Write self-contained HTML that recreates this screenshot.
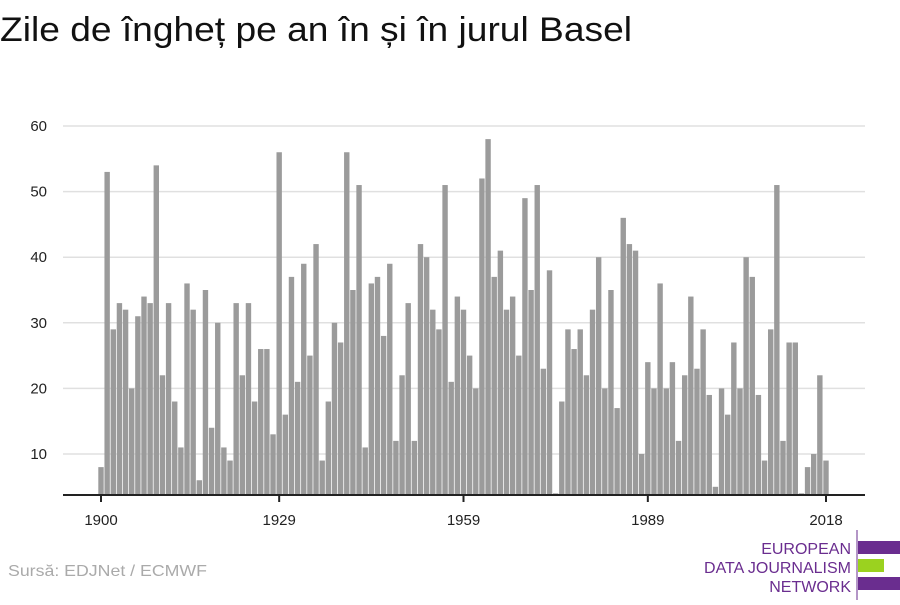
<!DOCTYPE html>
<html><head><meta charset="utf-8"><style>
body{margin:0;width:900px;height:600px;background:#fff;overflow:hidden;font-family:"Liberation Sans",sans-serif}
</style></head><body>
<svg id="s" width="900" height="600" xmlns="http://www.w3.org/2000/svg">
<text x="0" y="41" font-size="34" fill="#111" font-family="Liberation Sans, sans-serif" textLength="632" lengthAdjust="spacingAndGlyphs">Zile de îngheț pe an în și în jurul Basel</text>
<g id="grid"></g>
<g id="bars" fill="#9b9b9b"></g>
<line x1="63" y1="495" x2="865" y2="495" stroke="#222" stroke-width="2"/>
<g id="ticks" font-size="15" fill="#222" font-family="Liberation Sans, sans-serif"></g>
<text x="8" y="576" font-size="16" fill="#aaa" textLength="199" lengthAdjust="spacingAndGlyphs">Sursă: EDJNet / ECMWF</text>
<g font-size="16" fill="#6a2d8f" text-anchor="end" font-family="Liberation Sans, sans-serif">
<text x="851" y="554">EUROPEAN</text>
<text x="851" y="573">DATA JOURNALISM</text>
<text x="851" y="592">NETWORK</text>
</g>
<line x1="857" y1="530" x2="857" y2="600" stroke="#6a2d8f" stroke-width="1"/>
<rect x="858" y="541" width="42" height="13" fill="#6a2d8f"/>
<rect x="858" y="559" width="26" height="13" fill="#9bd21f"/>
<rect x="858" y="577" width="42" height="13" fill="#6a2d8f"/>
</svg>
<script>
var v=[8,53,29,33,32,20,31,34,33,54,22,33,18,11,36,32,6,35,14,30,11,9,33,22,33,18,26,26,13,56,16,37,21,39,25,42,9,18,30,27,56,35,51,11,36,37,28,39,12,22,33,12,42,40,32,29,51,21,34,32,25,20,52,58,37,41,32,34,25,49,35,51,23,38,4,18,29,26,29,22,32,40,20,35,17,46,42,41,10,24,20,36,20,24,12,22,34,23,29,19,5,20,16,27,20,40,37,19,9,29,51,12,27,27,4,8,10,22,9];
var ns="http://www.w3.org/2000/svg";
function el(t,a,p){var e=document.createElementNS(ns,t);for(var k in a)e.setAttribute(k,a[k]);p.appendChild(e);return e;}
var g=document.getElementById('grid'),b=document.getElementById('bars'),tk=document.getElementById('ticks');
function Y(val){return 454-(val-10)*6.56;}
for(var i=1;i<=6;i++){var y=Y(i*10);el('line',{x1:63,x2:865,y1:y,y2:y,stroke:'#e0e0e0','stroke-width':1.5},g);
var t=el('text',{x:47,y:y+5,'text-anchor':'end'},tk);t.textContent=i*10;}
var step=725/118;
v.forEach(function(val,i){var x=101+i*step;var y=Y(val);el('rect',{x:x-2.7,y:y,width:5.4,height:495-y},b);});
[1900,1929,1959,1989,2018].forEach(function(yr){var x=101+(yr-1900)*step;
el('line',{x1:x,x2:x,y1:495,y2:502,stroke:'#222','stroke-width':2},tk);
var t=el('text',{x:x,y:525,'text-anchor':'middle'},tk);t.textContent=yr;});
</script>
</body></html>
